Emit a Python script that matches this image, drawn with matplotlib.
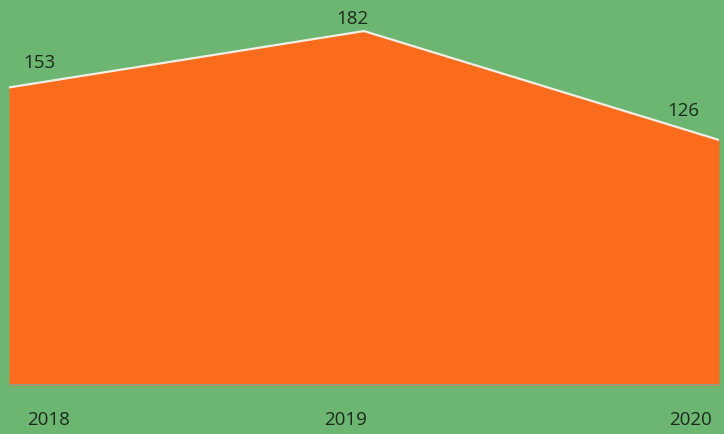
import matplotlib
matplotlib.use("Agg")
import matplotlib.pyplot as plt

years = ["2018", "2019", "2020"]
values = [153, 182, 126]

green = "#6cb671"
orange = "#fd6b1c"
txt = "#1c2a1e"

fig = plt.figure(figsize=(7.24, 4.35), dpi=100)
fig.patch.set_facecolor(green)
ax = fig.add_axes([9/724, 49/435, 710/724, 366/435])
ax.set_facecolor(green)
x = list(range(len(years)))
ax.fill_between(x, values, 0, color=orange, lw=0, zorder=2)
ax.plot(x, values, color="#f4efe6", lw=1.6, zorder=3, solid_capstyle="butt")
ax.axhline(0, color="#8c9c98", lw=1.5, zorder=3)
ax.set_xlim(0, 2)
ax.set_ylim(0, 188.2)
ax.axis("off")

font = dict(family=["Open Sans", "DejaVu Sans"], fontsize=13.5, color=txt)
# value labels
val_offsets = [(30, 25), (-12, 13), (-36, 30)]
for xi, v, (dx, dy) in zip(x, values, val_offsets):
    ax.annotate(str(v), (xi, v), xytext=(dx, dy), textcoords="offset pixels",
                ha="center", va="center", **font)
# year labels
year_offsets = [40, -18, -28]
for xi, y, dx in zip(x, years, year_offsets):
    ax.annotate(y, (xi, 0), xytext=(dx, -34), textcoords="offset pixels",
                ha="center", va="center", **font)

fig.savefig("out.png", dpi=100, facecolor=green)
